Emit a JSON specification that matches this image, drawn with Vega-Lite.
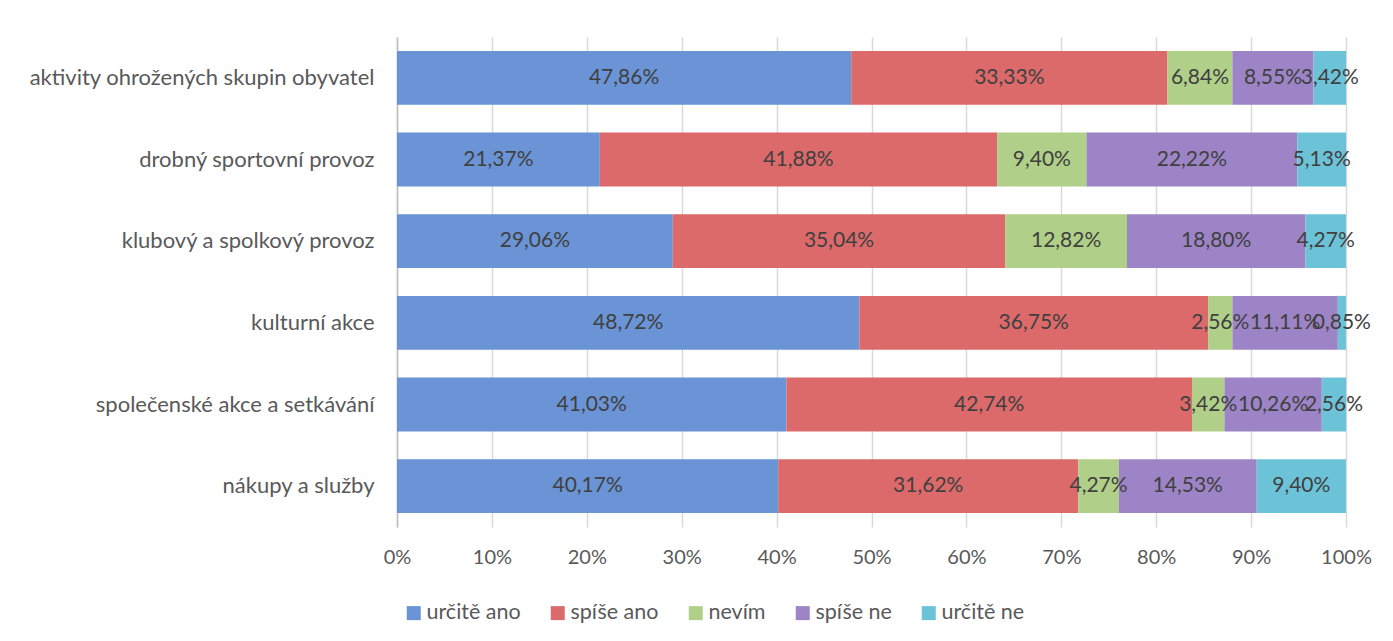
{
  "$schema": "https://vega.github.io/schema/vega-lite/v6.json",
  "autosize": "none",
  "padding": {"left": 397, "top": 37, "right": 47, "bottom": 114},
  "width": 949,
  "height": 490,
  "background": "white",
  "config": {
    "locale": {"number": {"decimal": ",", "thousands": " ", "grouping": [3], "currency": ["", " Kč"]}},
    "font": "Lato",
    "view": {"stroke": null}
  },
  "data": {
    "values": [
      {"cat": "aktivity ohrožených skupin obyvatel", "resp": "určitě ano", "ord": 1, "share": 0.4786},
      {"cat": "aktivity ohrožených skupin obyvatel", "resp": "spíše ano", "ord": 2, "share": 0.3333},
      {"cat": "aktivity ohrožených skupin obyvatel", "resp": "nevím", "ord": 3, "share": 0.0684},
      {"cat": "aktivity ohrožených skupin obyvatel", "resp": "spíše ne", "ord": 4, "share": 0.0855},
      {"cat": "aktivity ohrožených skupin obyvatel", "resp": "určitě ne", "ord": 5, "share": 0.0342},
      {"cat": "drobný sportovní provoz", "resp": "určitě ano", "ord": 1, "share": 0.2137},
      {"cat": "drobný sportovní provoz", "resp": "spíše ano", "ord": 2, "share": 0.4188},
      {"cat": "drobný sportovní provoz", "resp": "nevím", "ord": 3, "share": 0.0940},
      {"cat": "drobný sportovní provoz", "resp": "spíše ne", "ord": 4, "share": 0.2222},
      {"cat": "drobný sportovní provoz", "resp": "určitě ne", "ord": 5, "share": 0.0513},
      {"cat": "klubový a spolkový provoz", "resp": "určitě ano", "ord": 1, "share": 0.2906},
      {"cat": "klubový a spolkový provoz", "resp": "spíše ano", "ord": 2, "share": 0.3504},
      {"cat": "klubový a spolkový provoz", "resp": "nevím", "ord": 3, "share": 0.1282},
      {"cat": "klubový a spolkový provoz", "resp": "spíše ne", "ord": 4, "share": 0.1880},
      {"cat": "klubový a spolkový provoz", "resp": "určitě ne", "ord": 5, "share": 0.0427},
      {"cat": "kulturní akce", "resp": "určitě ano", "ord": 1, "share": 0.4872},
      {"cat": "kulturní akce", "resp": "spíše ano", "ord": 2, "share": 0.3675},
      {"cat": "kulturní akce", "resp": "nevím", "ord": 3, "share": 0.0256},
      {"cat": "kulturní akce", "resp": "spíše ne", "ord": 4, "share": 0.1111},
      {"cat": "kulturní akce", "resp": "určitě ne", "ord": 5, "share": 0.0085},
      {"cat": "společenské akce a setkávání", "resp": "určitě ano", "ord": 1, "share": 0.4103},
      {"cat": "společenské akce a setkávání", "resp": "spíše ano", "ord": 2, "share": 0.4274},
      {"cat": "společenské akce a setkávání", "resp": "nevím", "ord": 3, "share": 0.0342},
      {"cat": "společenské akce a setkávání", "resp": "spíše ne", "ord": 4, "share": 0.1026},
      {"cat": "společenské akce a setkávání", "resp": "určitě ne", "ord": 5, "share": 0.0256},
      {"cat": "nákupy a služby", "resp": "určitě ano", "ord": 1, "share": 0.4017},
      {"cat": "nákupy a služby", "resp": "spíše ano", "ord": 2, "share": 0.3162},
      {"cat": "nákupy a služby", "resp": "nevím", "ord": 3, "share": 0.0427},
      {"cat": "nákupy a služby", "resp": "spíše ne", "ord": 4, "share": 0.1453},
      {"cat": "nákupy a služby", "resp": "určitě ne", "ord": 5, "share": 0.0940}
    ]
  },
  "transform": [
    {"stack": "share", "groupby": ["cat"], "sort": [{"field": "ord", "order": "ascending"}], "as": ["s0", "s1"]},
    {"calculate": "(datum.s0 + datum.s1) / 2", "as": "mid"}
  ],
  "encoding": {
    "y": {
      "field": "cat",
      "type": "nominal",
      "title": null,
      "sort": ["aktivity ohrožených skupin obyvatel", "drobný sportovní provoz", "klubový a spolkový provoz", "kulturní akce", "společenské akce a setkávání", "nákupy a služby"],
      "scale": {"paddingInner": 0.34, "paddingOuter": 0.17},
      "axis": {
        "ticks": false,
        "domainColor": "#bfbfbf",
        "domainWidth": 1.5,
        "labelFontSize": 22,
        "labelColor": "#595959",
        "labelPadding": 23,
        "labelLimit": 400,
        "grid": false
      }
    }
  },
  "layer": [
    {
      "mark": {"type": "bar"},
      "encoding": {
        "x": {
          "field": "s0",
          "type": "quantitative",
          "title": null,
          "scale": {"domain": [0, 1], "nice": false, "zero": true},
          "axis": {
            "format": "%",
            "values": [0, 0.1, 0.2, 0.3, 0.4, 0.5, 0.6, 0.7, 0.8, 0.9, 1],
            "domain": false,
            "ticks": false,
            "grid": true,
            "gridColor": "#d9d9d9",
            "gridWidth": 1.5,
            "labelFlush": false,
            "labelFontSize": 20,
            "labelColor": "#595959",
            "labelPadding": 20
          }
        },
        "x2": {"field": "s1"},
        "color": {
          "field": "resp",
          "type": "nominal",
          "scale": {
            "domain": ["určitě ano", "spíše ano", "nevím", "spíše ne", "určitě ne"],
            "range": ["#6a94d6", "#dc6a6a", "#b0cf88", "#9c84c6", "#6cc3d8"]
          },
          "legend": {
            "title": null,
            "orient": "none",
            "direction": "horizontal",
            "legendX": 6,
            "legendY": 565,
            "symbolType": "square",
            "symbolSize": 196,
            "symbolStrokeWidth": 0,
            "labelFontSize": 21.5,
            "labelColor": "#595959",
            "labelOffset": 2,
            "columnPadding": 26
          }
        },
        "order": {"field": "ord"}
      }
    },
    {
      "mark": {"type": "text", "fontSize": 21, "color": "#404040", "baseline": "middle", "align": "center"},
      "encoding": {
        "x": {"field": "mid", "type": "quantitative"},
        "text": {"field": "share", "type": "quantitative", "format": ".2%"}
      }
    }
  ]
}
